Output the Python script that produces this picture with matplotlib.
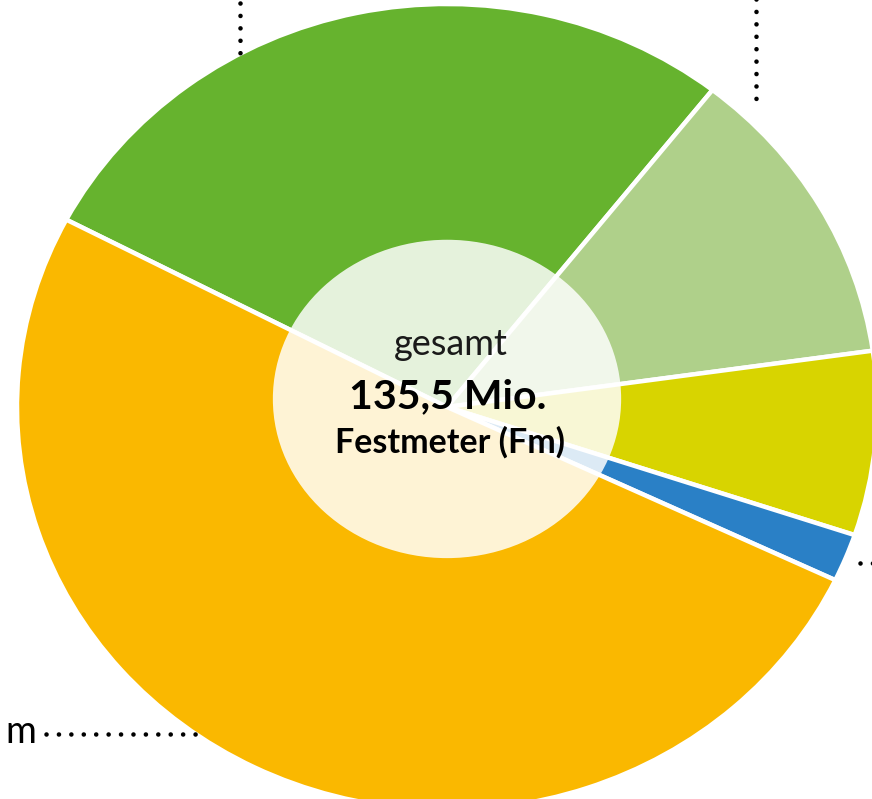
import matplotlib
matplotlib.use("Agg")
import matplotlib.pyplot as plt
from matplotlib.patches import Ellipse

W, H = 872, 799

# Data (Mio. Festmeter)
segments = ["Segment A", "Segment B", "Segment C", "Segment D", "Segment E"]
values = [37.8, 16.5, 10.0, 2.6, 68.6]
colors = ["#66B32E", "#AFD08A", "#D8D400", "#2A80C6", "#FAB800"]
center_texts = ["gesamt", "135,5 Mio.", "Festmeter (Fm)"]
side_label = "m"

fig = plt.figure(figsize=(W / 100, H / 100), dpi=100)

# pie axes (slightly elliptical, cropped by the figure)
cx, cy, rx, ry = 447, 407, 430, 403
ax = fig.add_axes([(cx - rx) / W, 1 - (cy + ry) / H, 2 * rx / W, 2 * ry / H])
ax.pie(values, colors=colors, startangle=152.3, counterclock=False,
       radius=1, center=(0, 0),
       wedgeprops=dict(edgecolor="white", linewidth=3.2))
ax.set_aspect("auto")
ax.set_xlim(-1, 1)
ax.set_ylim(-1, 1)
ax.axis("off")
ax.add_patch(Ellipse((0, 0.02), 0.81, 0.79, facecolor="white", alpha=0.84,
                     edgecolor="none", zorder=5))

# overlay axes in pixel coordinates for texts and leader lines
ax0 = fig.add_axes([0, 0, 1, 1], zorder=10)
ax0.set_xlim(0, W)
ax0.set_ylim(H, 0)
ax0.axis("off")

dot = dict(color="black", linewidth=3.3, linestyle=(0, (0.01, 2.7)),
           dash_capstyle="round", solid_capstyle="round")
ax0.plot([240, 240], [3, 54], **dot)
ax0.plot([756, 756], [-2, 108], **dot)
ax0.plot([46, 200], [734, 734], **dot)
ax0.plot([860, 880], [563, 563], **dot)

font = "Lato"
ax0.text(451, 355, center_texts[0], ha="center", va="baseline",
         fontsize=26, family=font, color="#1a1a1a")
ax0.text(448, 408, center_texts[1], ha="center", va="baseline",
         fontsize=29.5, family=font, fontweight="bold", color="black")
ax0.text(450, 453, center_texts[2], ha="center", va="baseline",
         fontsize=24.5, family=font, fontweight="bold", color="black")
ax0.text(36, 743, side_label, ha="right", va="baseline",
         fontsize=27, family=font, color="black")

fig.savefig("out.png", dpi=100)
